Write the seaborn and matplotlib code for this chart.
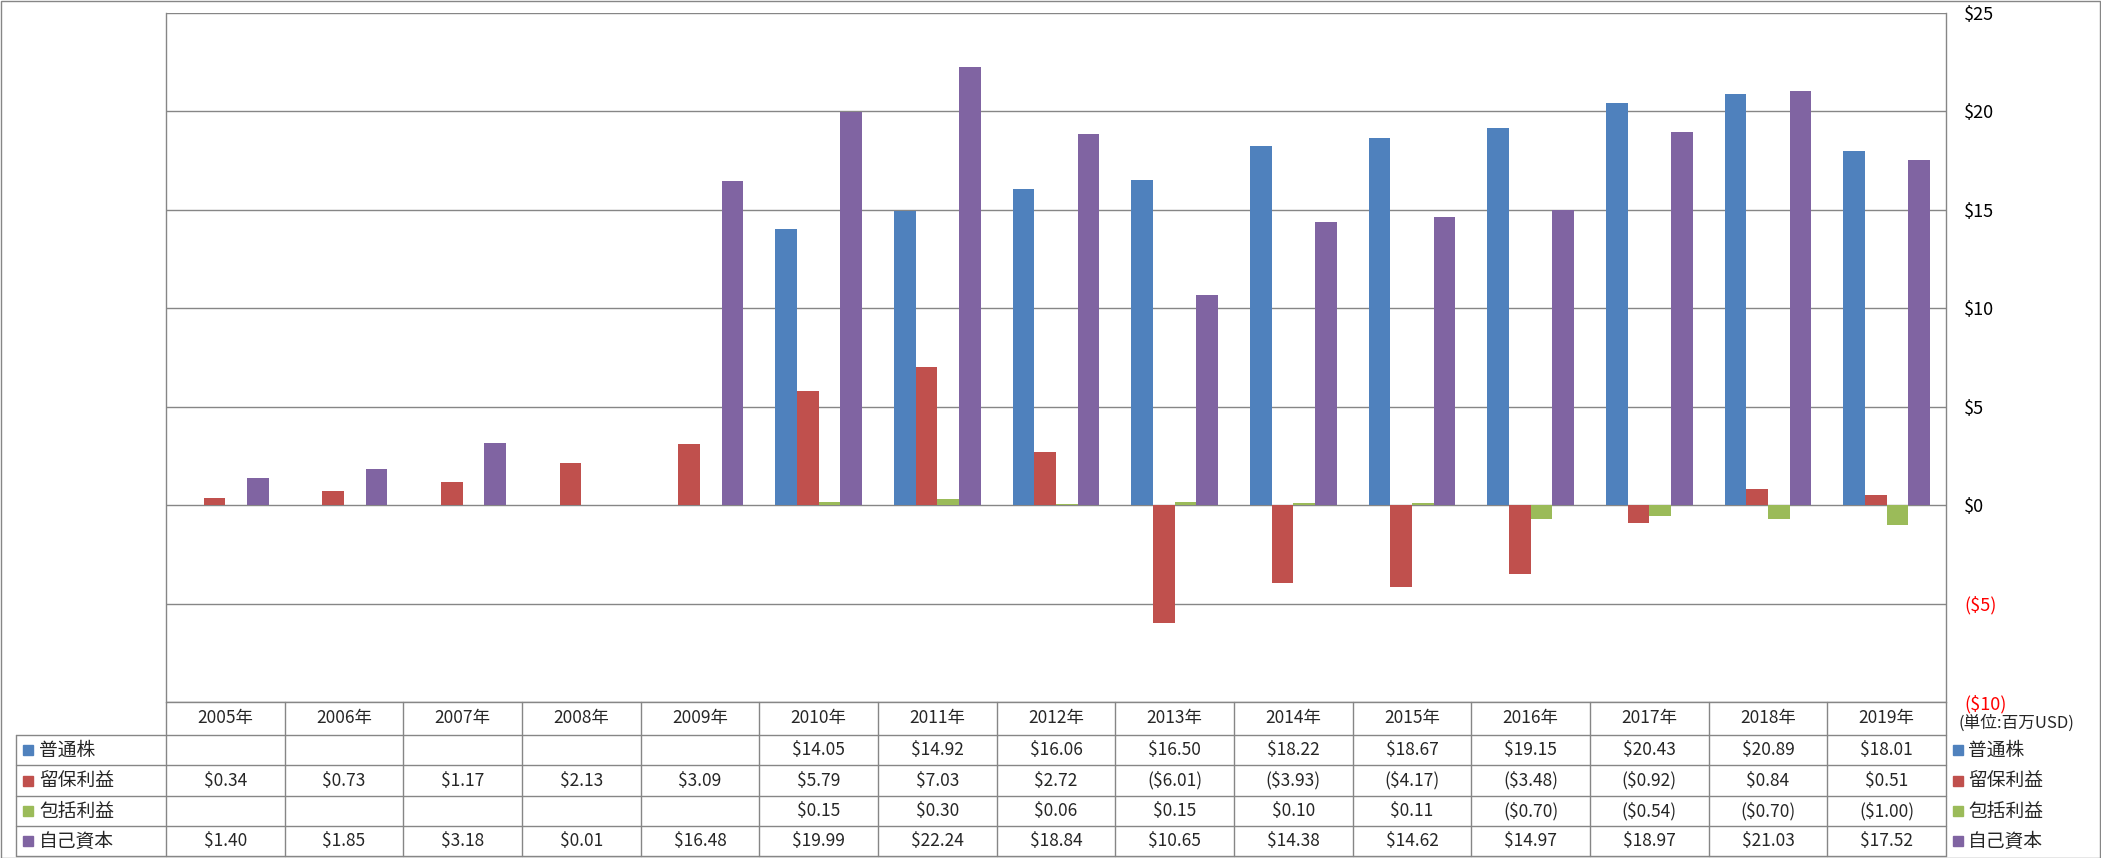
import numpy as np
import pandas as pd
import matplotlib
matplotlib.use("Agg")
import matplotlib.pyplot as plt
import seaborn as sns
from matplotlib import font_manager as fm
from matplotlib.lines import Line2D
from matplotlib.patches import Rectangle

# ---------------- data ----------------
years = ["2005年", "2006年", "2007年", "2008年", "2009年", "2010年", "2011年", "2012年",
         "2013年", "2014年", "2015年", "2016年", "2017年", "2018年", "2019年"]
series = ["普通株", "留保利益", "包括利益", "自己資本"]
common_stock = [None, None, None, None, None, 14.05, 14.92, 16.06, 16.50, 18.22, 18.67,
                19.15, 20.43, 20.89, 18.01]
retained_earnings = [0.34, 0.73, 1.17, 2.13, 3.09, 5.79, 7.03, 2.72, -6.01, -3.93, -4.17,
                     -3.48, -0.92, 0.84, 0.51]
comprehensive_income = [None, None, None, None, None, 0.15, 0.30, 0.06, 0.15, 0.10, 0.11,
                        -0.70, -0.54, -0.70, -1.00]
equity = [1.40, 1.85, 3.18, 0.01, 16.48, 19.99, 22.24, 18.84, 10.65, 14.38, 14.62, 14.97,
          18.97, 21.03, 17.52]
yticks = [-10, -5, 0, 5, 10, 15, 20, 25]
unit_label = "(単位:百万USD)"

colors = ["#4F81BD", "#C0504D", "#9BBB59", "#8064A2"]
GRID = "#868686"

values = [common_stock, retained_earnings, comprehensive_income, equity]
rows = []
for s, vals in zip(series, values):
    for y, v in zip(years, vals):
        rows.append({"year": y, "series": s, "value": np.nan if v is None else v})
df = pd.DataFrame(rows)

# ---------------- fonts ----------------
sns.set_theme(style="white")
names = {f.name for f in fm.fontManager.ttflist}
num_font = "Liberation Sans Narrow" if "Liberation Sans Narrow" in names else "Noto Sans CJK JP"
FAM = [num_font, "Noto Sans CJK JP", "DejaVu Sans"]
plt.rcParams["font.family"] = FAM

W, H = 2101, 858
fig = plt.figure(figsize=(W / 100, H / 100), dpi=100)
fig.patch.set_facecolor("white")

PL, PR, PT, PB = 166, 1946, 13, 702
ax = fig.add_axes([PL / W, 1 - PB / H, (PR - PL) / W, (PB - PT) / H])

sns.barplot(data=df, x="year", y="value", hue="series", order=years, hue_order=series,
            palette=colors, width=0.733, saturation=1, errorbar=None, legend=False,
            edgecolor="none", linewidth=0, ax=ax)

ax.set_xlim(-0.5, len(years) - 0.5)
ax.set_ylim(-10, 25)
ax.set_xticks([])
ax.set_xlabel("")
ax.set_ylabel("")
ax.set_yticks(yticks)
ax.yaxis.tick_right()
ax.tick_params(axis="y", length=0, pad=13, labelsize=13)


def money(v, dec=True):
    if v is None:
        return ""
    s = f"${abs(v):.2f}" if dec else f"${abs(v):.0f}"
    return f"({s})" if v < 0 else s


labels = ax.set_yticklabels([money(t, dec=False) for t in yticks])
for lab, t in zip(labels, yticks):
    lab.set_ha("left")
    lab.set_color("#FF0000" if t < 0 else "#000000")
    lab.set_family(FAM)

ax.yaxis.grid(True, color=GRID, linewidth=1.0)
ax.set_axisbelow(True)
for side in ["top", "bottom"]:
    ax.spines[side].set_visible(False)
for side in ["left", "right"]:
    ax.spines[side].set_visible(True)
    ax.spines[side].set_color(GRID)
    ax.spines[side].set_linewidth(1.0)


# ---------------- table ----------------
def fx(x):
    return x / W


def fy(y):
    return 1 - y / H


def hline(x0, x1, y):
    fig.add_artist(Line2D([fx(x0), fx(x1)], [fy(y), fy(y)], color=GRID, lw=1.0,
                          transform=fig.transFigure))


def vline(x, y0, y1):
    fig.add_artist(Line2D([fx(x), fx(x)], [fy(y0), fy(y1)], color=GRID, lw=1.0,
                          transform=fig.transFigure))


row_y = [702, 735, 765, 796, 826, 856]
LEG_L = 16
cw = (PR - PL) / len(years)
col_x = [PL + k * cw for k in range(len(years) + 1)]

hline(PL, PR, row_y[0])
for y in row_y[1:]:
    hline(LEG_L, PR, y)
for x in col_x:
    vline(x, row_y[0], row_y[-1])
vline(LEG_L, row_y[1], row_y[-1])

FS = 12.5
for i, y in enumerate(years):
    cx = (col_x[i] + col_x[i + 1]) / 2
    fig.text(fx(cx), fy((row_y[0] + row_y[1]) / 2), y, ha="center", va="center",
             fontsize=FS, family=FAM)

for r, (s, vals, c) in enumerate(zip(series, values, colors)):
    cy = (row_y[r + 1] + row_y[r + 2]) / 2
    fig.add_artist(Rectangle((fx(23), fy(cy + 5)), 10 / W, 10 / H, color=c,
                             transform=fig.transFigure))
    fig.text(fx(39), fy(cy), s, ha="left", va="center", fontsize=FS + 1,
             family=["Noto Sans CJK JP"])
    for i, v in enumerate(vals):
        cx = (col_x[i] + col_x[i + 1]) / 2
        fig.text(fx(cx), fy(cy), money(v), ha="center", va="center", fontsize=FS,
                 family=FAM)
    # right-side legend
    fig.add_artist(Rectangle((fx(1953), fy(cy + 5)), 10 / W, 10 / H, color=c,
                             transform=fig.transFigure))
    fig.text(fx(1968), fy(cy), s, ha="left", va="center", fontsize=FS + 1,
             family=["Noto Sans CJK JP"])

fig.text(fx(1958), fy(723), unit_label, ha="left", va="center", fontsize=12,
         family=["Noto Sans CJK JP", "DejaVu Sans"])

# outer chart border
fig.add_artist(Rectangle((0.5 / W, 0.5 / H), (W - 1.5) / W, (H - 1.5) / H, fill=False,
                         edgecolor=GRID, lw=1.0, transform=fig.transFigure))

fig.savefig("out.png", dpi=100, facecolor="white")
